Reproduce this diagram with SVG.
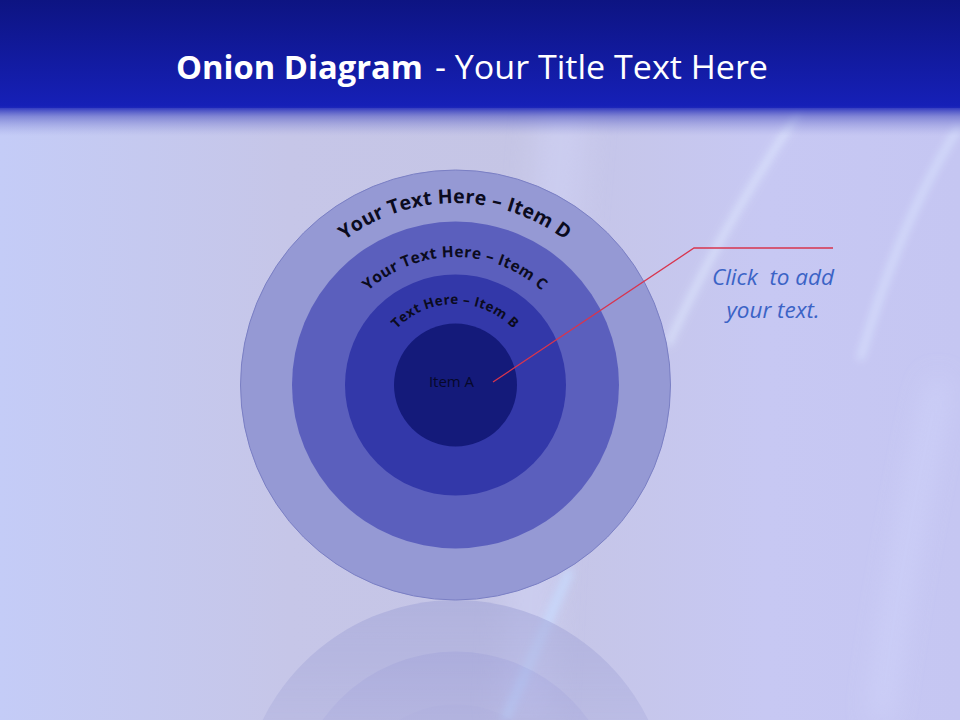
<svg xmlns="http://www.w3.org/2000/svg" width="960" height="720" viewBox="0 0 960 720">
<defs>
  <linearGradient id="bg" x1="0" y1="0" x2="1" y2="0">
    <stop offset="0" stop-color="#c4ccf7"/>
    <stop offset="0.3" stop-color="#c6c6e8"/>
    <stop offset="0.55" stop-color="#c5c5e5"/>
    <stop offset="0.8" stop-color="#c7c8f3"/>
    <stop offset="1" stop-color="#c5c6f2"/>
  </linearGradient>
  <linearGradient id="hdr" x1="0" y1="0" x2="0" y2="1">
    <stop offset="0" stop-color="#0d1482"/>
    <stop offset="1" stop-color="#1620b8"/>
  </linearGradient>
  <linearGradient id="hdrfade" x1="0" y1="0" x2="0" y2="1">
    <stop offset="0" stop-color="#1620b8" stop-opacity="0.95"/>
    <stop offset="0.35" stop-color="#4a50c0" stop-opacity="0.55"/>
    <stop offset="1" stop-color="#8c90d8" stop-opacity="0"/>
  </linearGradient>
  <linearGradient id="reflfade" x1="0" y1="0" x2="0" y2="1">
    <stop offset="0" stop-color="#fff" stop-opacity="0.85"/>
    <stop offset="1" stop-color="#fff" stop-opacity="0.45"/>
  </linearGradient>
  <mask id="reflmask" maskUnits="userSpaceOnUse" x="0" y="600" width="960" height="120">
    <rect x="0" y="600" width="960" height="120" fill="url(#reflfade)"/>
  </mask>
  <filter id="blur" filterUnits="userSpaceOnUse" x="0" y="0" width="960" height="720">
    <feGaussianBlur stdDeviation="4"/>
  </filter>
  <filter id="blur2" filterUnits="userSpaceOnUse" x="0" y="0" width="960" height="720">
    <feGaussianBlur stdDeviation="14"/>
  </filter>
  <path id="arcD" d="M 273 385 A 182 182 0 0 1 637 385"/>
  <path id="arcC" d="M 327 385 A 128 128 0 0 1 583 385"/>
  <path id="arcB" d="M 374 385 A 81 81 0 0 1 536 385"/>
  <style>
    .arc { font-family: "Open Sans", "Liberation Sans", sans-serif; font-weight: bold; fill: #0b0b1e; }
    .callout { font-family: "Open Sans", "Liberation Sans", sans-serif; font-style: italic; font-size: 22.5px; fill: #3b63c6; }
    .lead { fill: none; stroke: #d8354e; stroke-width: 1.3; }
  </style>
</defs>

<!-- background -->
<rect x="0" y="0" width="960" height="720" fill="url(#bg)"/>
<g>
  <path d="M 565 100 Q 545 300 525 720" stroke="#d2d4f8" stroke-width="50" fill="none" filter="url(#blur2)" opacity="0.5"/>
  <path d="M 800 110 Q 720 230 668 345" stroke="#e2ecff" stroke-width="5" fill="none" filter="url(#blur)" opacity="0.9"/>
  <path d="M 960 125 Q 900 220 860 360" stroke="#dbe6ff" stroke-width="6" fill="none" filter="url(#blur)" opacity="0.8"/>
  <path d="M 570 570 Q 540 640 505 720" stroke="#c8dcff" stroke-width="8" fill="none" filter="url(#blur)" opacity="0.9"/>
  <path d="M 940 380 Q 900 560 880 720" stroke="#d6dcff" stroke-width="14" fill="none" filter="url(#blur2)" opacity="0.7"/>
</g>

<!-- header -->
<rect x="0" y="0" width="960" height="108" fill="url(#hdr)"/>
<rect x="0" y="106" width="960" height="30" fill="url(#hdrfade)"/>
<g id="title" fill="#ffffff" font-family="'Open Sans', 'Liberation Sans', sans-serif" font-size="33">
  <text x="176" y="79" font-weight="bold" textLength="247" lengthAdjust="spacingAndGlyphs">Onion Diagram</text>
  <text x="435" y="79" textLength="333" lengthAdjust="spacingAndGlyphs">- Your Title Text Here</text>
</g>

<!-- reflection -->
<g id="reflection" mask="url(#reflmask)" opacity="0.6">
  <circle cx="455.5" cy="815" r="215" fill="#9ea1d6"/>
  <circle cx="455.5" cy="815" r="163.5" fill="#888bcf"/>
  <circle cx="455.5" cy="815" r="110.5" fill="#8083cc"/>
</g>

<!-- onion -->
<g id="itemD">
  <circle cx="455.5" cy="385" r="215" fill="#9599d4" stroke="#7a7fc4" stroke-width="1"/>
  <text class="arc" font-size="19.5" letter-spacing="0.3"><textPath href="#arcD" startOffset="50%" text-anchor="middle">Your Text Here – Item D</textPath></text>
</g>
<g id="itemC">
  <circle cx="455.5" cy="385" r="163.5" fill="#5b5fbd"/>
  <text class="arc" font-size="15.5" letter-spacing="0.4"><textPath href="#arcC" startOffset="50%" text-anchor="middle">Your Text Here – Item C</textPath></text>
</g>
<g id="itemB">
  <circle cx="455.5" cy="385" r="110.5" fill="#3338a9"/>
  <text class="arc" font-size="13.5" letter-spacing="0.4"><textPath href="#arcB" startOffset="50%" text-anchor="middle">Text Here – Item B</textPath></text>
</g>
<g id="itemA">
  <circle cx="455.5" cy="385" r="61.5" fill="#141a7a"/>
  <text x="451.5" y="387" text-anchor="middle" font-family="'Open Sans', 'Liberation Sans', sans-serif" font-size="15" fill="#06082a">Item A</text>
</g>

<!-- connectors -->
<g id="connectors">
  <polyline class="lead" points="493,382 694,248 833,248"/>
</g>

<g id="note">
  <text class="callout" x="773" y="285" text-anchor="middle" xml:space="preserve">Click  to add</text>
  <text class="callout" x="773" y="318" text-anchor="middle">your text.</text>
</g>
</svg>
